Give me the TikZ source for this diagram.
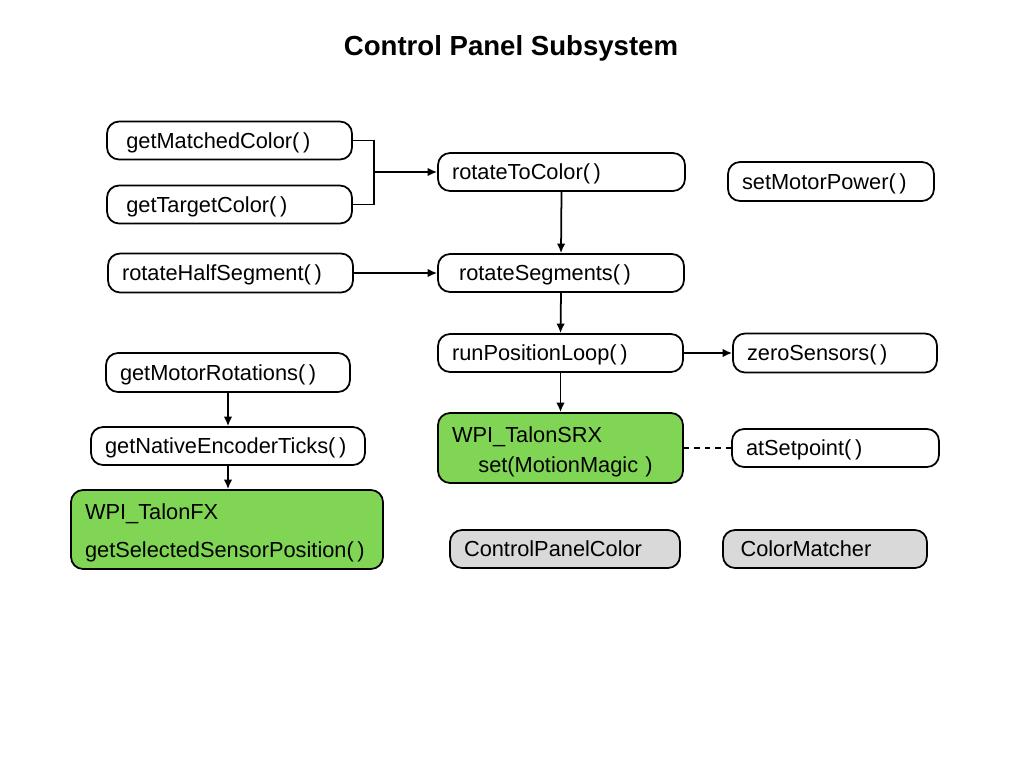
\documentclass[tikz,border=0pt]{standalone}
\usepackage{fontspec}
\setmainfont{Liberation Sans}
\usepackage{tikz}
\usetikzlibrary{arrows.meta}
\tikzset{>={Latex[width=1.7mm,length=1.9mm]}}
\tikzset{
  box/.style={draw=black, line width=1pt, rounded corners=0.24cm,
    minimum height=0.76cm, inner xsep=0.28cm, inner ysep=0pt,
    text width=#1, align=left},
  func/.style={box=#1, text depth=0pt},
  motor/.style={box=#1, fill=talongreen},
  util/.style={func=#1, fill=utilgray}
}
\definecolor{talongreen}{RGB}{128,214,84}
\definecolor{utilgray}{RGB}{217,217,217}

\begin{document}
\begin{tikzpicture}[x=0.02cm, y=-0.02cm, font=\fontsize{12.4}{14}\selectfont]
    \useasboundingbox (0,0) rectangle (1024,768);

    \node[font=\fontsize{15.7}{18}\selectfont\bfseries] (title) at (511,48) {Control Panel Subsystem};

    \node[func=4.34cm] (getMC) at (229.5,140.5) {\hspace{3pt}getMatchedColor(\,)};
    \node[func=4.34cm] (getTC) at (229.5,204.5) {\hspace{3pt}getTargetColor(\,)};
    \node[func=4.38cm] (rotTC) at (561.5,172) {rotateToColor(\,)};
    \node[func=3.56cm, minimum height=0.78cm] (setMP) at (831,181.5) {setMotorPower(\,)};

    \node[func=4.34cm, minimum height=0.78cm] (rotHS) at (230.5,273) {rotateHalfSegment(\,)};
    \node[func=4.36cm] (rotSeg) at (561,273) {\hspace{4pt}rotateSegments(\,)};

    \node[func=4.34cm] (runPL) at (560.5,353) {runPositionLoop(\,)};
    \node[func=3.52cm, minimum height=0.78cm] (zeroS) at (835,353) {zeroSensors(\,)};

    \node[func=4.32cm, minimum height=0.78cm] (getMR) at (228,372.5) {getMotorRotations(\,)};
    \node[func=4.92cm] (getNET) at (228,446) {getNativeEncoderTicks(\,)};
    \node[motor=5.68cm, minimum height=1.58cm] (talonFX) at (227,529.5)
      {\rule{0pt}{12.4pt}WPI\_TalonFX\\[7.5pt]getSelectedSensorPosition(\,)};

    \node[motor=4.34cm, minimum height=1.4cm] (talonSRX) at (560.5,448)
      {\rule{0pt}{13.5pt}WPI\_TalonSRX\\[3pt]\hspace{15pt}set(MotionMagic )};
    \node[func=3.58cm] (atSP) at (835.5,448) {atSetpoint(\,)};

    \node[util=4.04cm] (cpColor) at (565,549) {ControlPanelColor};
    \node[util=3.52cm] (colMatch) at (825,549) {\hspace{2pt}ColorMatcher};

    \coordinate (join) at (374,172);
    \draw[line width=1pt] (getMC.east) -| (join) |- (getTC.east);
    \draw[->, line width=1pt] (join) -- (rotTC.west);

    \draw[->, line width=1pt] (rotTC.south) -- (rotSeg.north);
    \draw[->, line width=1pt] (rotHS.east) -- (rotSeg.west);
    \draw[->, line width=1pt] (rotSeg.south) -- (runPL.north);
    \draw[->, line width=1pt] (runPL.east) -- (zeroS.west);
    \draw[->, line width=1pt] (runPL.south) -- (talonSRX.north);
    \draw[dashed, line width=1pt] (talonSRX.east) -- (atSP.west);

    \draw[->, line width=1pt] (getMR.south) -- (getNET.north);
    \draw[->, line width=1pt] (getNET.south) -- (getNET.south |- talonFX.north);
  \end{tikzpicture}
\end{document}
